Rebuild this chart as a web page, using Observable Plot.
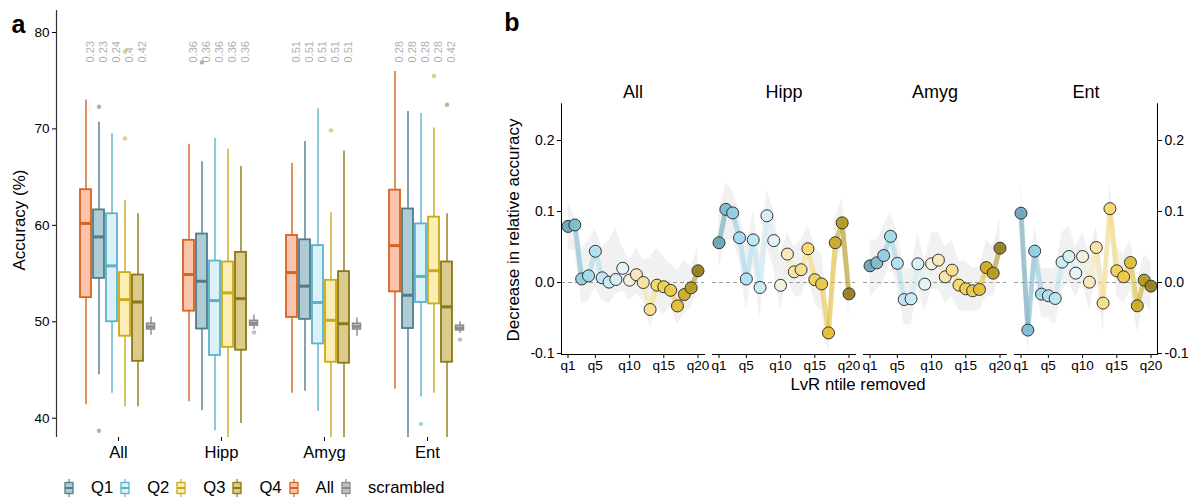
<!DOCTYPE html>
<html><head><meta charset="utf-8">
<script src="https://cdn.jsdelivr.net/npm/d3@7"></script>
<script src="https://cdn.jsdelivr.net/npm/@observablehq/plot@0.6"></script>
<style>
body{margin:0;background:#fff;font-family:"Liberation Sans",Arial,sans-serif;}
#root{position:relative;width:1193px;height:498px;overflow:hidden;background:#fff;}
#root svg{position:absolute;left:0;top:0;}
.t{position:absolute;white-space:nowrap;color:#000;line-height:1;}
.rot{transform:translate(-50%,-50%) rotate(-90deg);}
.ctr{transform:translate(-50%,-50%);}
#legend{position:absolute;left:64px;top:478px;display:flex;align-items:center;font-size:16.6px;}
#legend .it{display:flex;align-items:center;margin-right:7px;}
#legend svg{position:static;margin-right:17px;}
</style></head><body><div id="root"></div>
<script>
// ---------- Panel a data ----------
const regions = ["All","Hipp","Amyg","Ent"];
const groups = ["All","Q1","Q2","Q3","Q4","scrambled"];
const boxLo  = [41.4,44.5,42.6,41.2,41.2,48.6, 41.7,40.8,38.7,38.0,39.45,49.2, 42.6,42.8,40.7,38.0,38.0,48.5, 43.0,38.0,42.2,42.6,38.0,48.8];
const boxQ1  = [52.5,54.5,50.0,48.5,45.9,49.2, 51.1,49.25,46.5,47.35,47.05,49.6, 50.45,50.25,47.7,45.8,45.7,49.2, 53.1,49.3,52.0,51.85,45.8,49.1];
const boxMed = [60.2,58.8,55.8,52.3,52.05,49.5, 54.9,54.2,52.2,53.0,52.4,49.85, 55.1,53.7,52.0,50.15,49.8,49.5, 57.9,52.75,54.7,55.3,51.55,49.35];
const boxQ3  = [63.7,61.6,61.2,55.1,54.85,49.8, 58.45,59.1,56.3,56.2,57.2,50.1, 58.95,58.5,57.9,54.3,55.2,49.8, 63.65,61.7,60.15,60.85,56.2,49.6];
const boxHi  = [73.0,70.7,69.5,62.6,61.2,50.5, 68.4,66.6,69.0,67.9,66.1,50.7, 66.45,68.7,72.1,61.3,67.7,50.4, 75.96,71.8,71.6,70.1,61.2,50.0];
const outRegion = ["All","All","All","All","Hipp","Hipp","Amyg","Ent","Ent","Ent","Ent"];
const outGroup  = ["Q1","Q1","Q3","Q3","Q1","scrambled","Q3","Q2","Q3","Q4","scrambled"];
const outValue  = [72.3,38.7,69.0,78.0,76.9,48.9,69.85,39.4,75.5,72.5,48.15];
const ratioGroups = ["All","Q1","Q2","Q3","Q4"];
const ratioAll  = ["0.23","0.23","0.24","0.4","0.42"];
const ratioHipp = ["0.36","0.36","0.36","0.36","0.36"];
const ratioAmyg = ["0.51","0.51","0.51","0.51","0.51"];
const ratioEnt  = ["0.28","0.28","0.28","0.28","0.42"];
const yTicksA = [40,50,60,70,80];
const legendOrder = ["Q1","Q2","Q3","Q4","All","scrambled"];

// ---------- Panel b data ----------
const quantiles = [1,2,3,4,5,6,7,8,9,10,11,12,13,14,15,16,17,18,19,20];
const xTickValues = [1,5,10,15,20];
const xTickLabels = ["q1","q5","q10","q15","q20"];
const yTicksB = [-0.1,0,0.1,0.2];
const decAll  = [0.079,0.081,0.005,0.0094,0.044,0.0066,0.0005,0.0042,0.020,0.0033,0.011,0.0,-0.038,-0.0037,-0.006,-0.011,-0.033,-0.017,-0.0075,0.0165];
const hiAll   = [0.113,0.092,0.049,0.059,0.075,0.049,0.059,0.077,0.049,0.031,0.049,0.031,0.035,0.049,0.035,0.026,0.017,0.031,0.021,0.049];
const loAll   = [0.045,0.045,-0.030,-0.026,-0.007,-0.026,-0.030,-0.016,-0.012,-0.026,-0.016,-0.026,-0.063,-0.035,-0.045,-0.035,-0.059,-0.045,-0.035,-0.012];
const decHipp = [0.056,0.103,0.098,0.063,0.005,0.060,-0.007,0.094,0.059,-0.004,0.040,0.015,0.018,0.0475,0.004,-0.002,-0.071,0.056,0.084,-0.016];
const hiHipp  = [0.10,0.14,0.13,0.10,0.05,0.10,0.04,0.13,0.10,0.04,0.07,0.05,0.06,0.08,0.05,0.04,-0.04,0.09,0.12,0.02];
const loHipp  = [0.02,0.06,0.06,0.03,-0.04,0.02,-0.05,0.05,0.02,-0.04,0.01,-0.02,-0.02,0.01,-0.03,-0.04,-0.10,0.02,0.05,-0.05];
const decAmyg = [0.0235,0.0277,0.038,0.065,0.027,-0.024,-0.023,0.0263,-0.0023,0.0263,0.0315,0.008,0.0174,-0.0037,-0.0089,-0.0117,-0.0098,0.021,0.0132,0.0484];
const hiAmyg  = [0.06,0.06,0.08,0.10,0.07,0.02,0.02,0.07,0.03,0.07,0.07,0.05,0.06,0.03,0.03,0.02,0.02,0.06,0.05,0.09];
const loAmyg  = [-0.02,-0.01,0.0,0.03,-0.01,-0.06,-0.06,-0.01,-0.04,-0.01,-0.01,-0.03,-0.02,-0.04,-0.04,-0.04,-0.04,-0.02,-0.02,0.01];
const decEnt  = [0.0977,-0.067,0.0442,-0.0164,-0.0187,-0.0225,0.0287,0.0366,0.0132,0.0366,0.0005,0.0493,-0.029,0.104,0.0165,0.008,0.0282,-0.0328,0.0033,-0.0051];
const hiEnt   = [0.14,-0.03,0.08,0.02,0.02,0.02,0.07,0.08,0.05,0.07,0.04,0.08,0.01,0.14,0.05,0.04,0.06,0.0,0.04,0.03];
const loEnt   = [0.06,-0.10,0.01,-0.05,-0.05,-0.06,-0.01,0.0,-0.02,0.0,-0.04,0.01,-0.07,0.07,-0.02,-0.03,-0.01,-0.07,-0.03,-0.04];

// ---------- styles ----------
const groupStroke = {All:"#d4641f",Q1:"#4e7d8c",Q2:"#5bb2ca",Q3:"#c9aa17",Q4:"#8d7719",scrambled:"#8a8a8a"};
const groupFill   = {All:"#fcc4ad",Q1:"#afcbd3",Q2:"#daf1f8",Q3:"#fbedb3",Q4:"#dbcb8b",scrambled:"#bfbfbf"};
const qColors = ["#6aa6b8","#7fbcd0","#92cde2","#a3d9ec","#b0e0ef","#bce6f3","#c9ebf5","#d6eff6","#e6f3f4","#f4f0de",
                 "#f8e9b8","#f7e4a3","#f6de8c","#f4d870","#f1d058","#ecc944","#e3bf33","#cdab26","#b59a20","#93801f"];
const font = "Liberation Sans, Arial, sans-serif";
const svgStyle = {background:"transparent", fontFamily:font, overflow:"visible", maxWidth:"none"};

// ---------- build rows ----------
const boxRows = [];
regions.forEach((r,i) => groups.forEach((g,j) => {
  const k = i*groups.length + j;
  boxRows.push({region:r, group:g, lo:boxLo[k], q1:boxQ1[k], med:boxMed[k], q3:boxQ3[k], hi:boxHi[k]});
}));
const mainBoxes = boxRows.filter(d => d.group !== "scrambled");
const scrBoxes = boxRows.filter(d => d.group === "scrambled");
const outRows = outValue.map((v,i) => ({region:outRegion[i], group:outGroup[i], v}));
const ratioByRegion = {All:ratioAll, Hipp:ratioHipp, Amyg:ratioAmyg, Ent:ratioEnt};
const ratioRows = [];
regions.forEach(r => ratioGroups.forEach((g,j) => ratioRows.push({region:r, group:g, text:ratioByRegion[r][j]})));

const decBy = {All:decAll, Hipp:decHipp, Amyg:decAmyg, Ent:decEnt};
const hiBy = {All:hiAll, Hipp:hiHipp, Amyg:hiAmyg, Ent:hiEnt};
const loBy = {All:loAll, Hipp:loHipp, Amyg:loAmyg, Ent:loEnt};
const bRows = [];
regions.forEach(r => quantiles.forEach((q,j) => bRows.push({region:r, q, v:decBy[r][j], hi:hiBy[r][j], lo:loBy[r][j]})));

const root = document.getElementById("root");
const W = 1193, H = 498;

// ---------- Panel a: y axis ----------
const yDomA = [38, 82.28];
root.append(Plot.plot({
  width: W, height: H, marginLeft: 56, marginRight: W-60, marginTop: 10, marginBottom: 61,
  style: svgStyle,
  x: {domain:[0,1], axis:null},
  y: {domain: yDomA},
  marks: [
    Plot.axisY({ticks: yTicksA, tickSize: 4, tickPadding: 3, fontSize: 13.5, label: null}),
    Plot.ruleX([0], {stroke:"#333", strokeWidth: 1.2})
  ]
}));

// ---------- Panel a: boxes ----------
root.append(Plot.plot({
  width: W, height: H, marginLeft: 78, marginRight: W-466.5, marginTop: 10, marginBottom: 61,
  style: svgStyle,
  fx: {domain: regions, paddingInner: 0.2464, paddingOuter: 0},
  x: {domain: groups, padding: 0, axis: null},
  y: {domain: yDomA, axis: null},
  marks: [
    Plot.ruleX(boxRows, {fx:"region", x:"group", y1:"lo", y2:"hi", stroke: d => groupStroke[d.group], strokeWidth: 1.4}),
    Plot.barY(mainBoxes, {fx:"region", x:"group", y1:"q1", y2:"q3", fill: d => groupFill[d.group], stroke: d => groupStroke[d.group], strokeWidth: 1.8, insetLeft: 1, insetRight: 1}),
    Plot.barY(scrBoxes, {fx:"region", x:"group", y1:"q1", y2:"q3", fill: d => groupFill[d.group], stroke: d => groupStroke[d.group], strokeWidth: 1.5, insetLeft: 2.5, insetRight: 2.5}),
    Plot.tickY(mainBoxes, {fx:"region", x:"group", y:"med", stroke: d => groupStroke[d.group], strokeWidth: 3, insetLeft: 1, insetRight: 1}),
    Plot.tickY(scrBoxes, {fx:"region", x:"group", y:"med", stroke: d => groupStroke[d.group], strokeWidth: 2.5, insetLeft: 2.5, insetRight: 2.5}),
    Plot.dot(outRows, {fx:"region", x:"group", y:"v", fill: d => groupStroke[d.group], fillOpacity: 0.55, r: 2.2}),
    Plot.text(ratioRows, {fx:"region", x:"group", text:"text", rotate: -90, textAnchor:"start", frameAnchor:"top", dy: 52, fill:"#b0b0b0", fontSize: 11}),
    Plot.axisFx({anchor:"bottom", tickSize: 4, tickPadding: 5, fontSize: 16.6, label: null})
  ]
}));

// ---------- Panel b ----------
root.append(Plot.plot({
  width: W, height: H, marginLeft: 560, marginRight: 34.3, marginTop: 103.3, marginBottom: 144,
  style: svgStyle,
  fx: {domain: regions, paddingInner: 0.0547, paddingOuter: 0, axis: null},
  x: {domain: [1,20], inset: 6.5},
  y: {domain: [-0.1014, 0.2517]},
  marks: [
    Plot.areaY(bRows, {fx:"region", x:"q", y1:"lo", y2:"hi", fill:"#efefef", fillOpacity: 0.9}),
    Plot.ruleY([0], {stroke:"#9a9a9a", strokeDasharray:"4,3", strokeWidth: 1}),
    Plot.line(bRows, {fx:"region", x:"q", y:"v", z:"region", stroke: d => qColors[d.q-1], strokeWidth: 5, strokeOpacity: 0.6}),
    Plot.dot(bRows, {fx:"region", x:"q", y:"v", fill: d => qColors[d.q-1], r: 6, stroke:"#333", strokeWidth: 1, fillOpacity: 0.95}),
    Plot.frame({anchor:"bottom"}),
    Plot.frame({anchor:"left", facetAnchor:"left"}),
    Plot.frame({anchor:"right", facetAnchor:"right"}),
    Plot.axisY({anchor:"left", ticks: yTicksB, tickFormat: d => d.toFixed(1), tickSize: 4, tickPadding: 3, fontSize: 14, label: null}),
    Plot.axisY({anchor:"right", ticks: yTicksB, tickFormat: d => d.toFixed(1), tickSize: 4, tickPadding: 3, fontSize: 14, label: null}),
    Plot.axisX({ticks: xTickValues, tickFormat: d => xTickLabels[xTickValues.indexOf(d)], tickSize: 4, tickPadding: 2, fontSize: 13.5, label: null}),
    Plot.text(regions, {fx: d => d, text: d => d, frameAnchor:"top", dy: -19, fontSize: 18})
  ]
}));

// ---------- HTML text ----------
function addText(txt, x, y, cls, css) {
  const d = document.createElement("div");
  d.className = "t " + cls;
  d.textContent = txt;
  d.style.left = x + "px"; d.style.top = y + "px";
  Object.assign(d.style, css || {});
  root.append(d);
}
addText("a", 18.5, 24, "ctr", {fontSize:"25px", fontWeight:"bold"});
addText("b", 512, 22, "ctr", {fontSize:"25px", fontWeight:"bold"});
addText("Accuracy (%)", 19, 220, "rot", {fontSize:"17px"});
addText("Decrease in relative accuracy", 513, 230, "rot", {fontSize:"17px"});
addText("LvR ntile removed", 858, 385, "ctr", {fontSize:"16.8px"});

// legend
const leg = document.createElement("div");
leg.id = "legend";
legendOrder.forEach(g => {
  const it = document.createElement("div");
  it.className = "it";
  it.innerHTML = `<svg width="10" height="18" viewBox="0 0 10 18"><line x1="5" x2="5" y1="0" y2="18" stroke="${groupStroke[g]}" stroke-width="1.2"/><rect x="1" y="3.5" width="8" height="11" fill="${groupFill[g]}" stroke="${groupStroke[g]}" stroke-width="1.3"/><line x1="1" x2="9" y1="9" y2="9" stroke="${groupStroke[g]}" stroke-width="2"/></svg><span>${g}</span>`;
  leg.append(it);
});
root.append(leg);
</script></body></html>
